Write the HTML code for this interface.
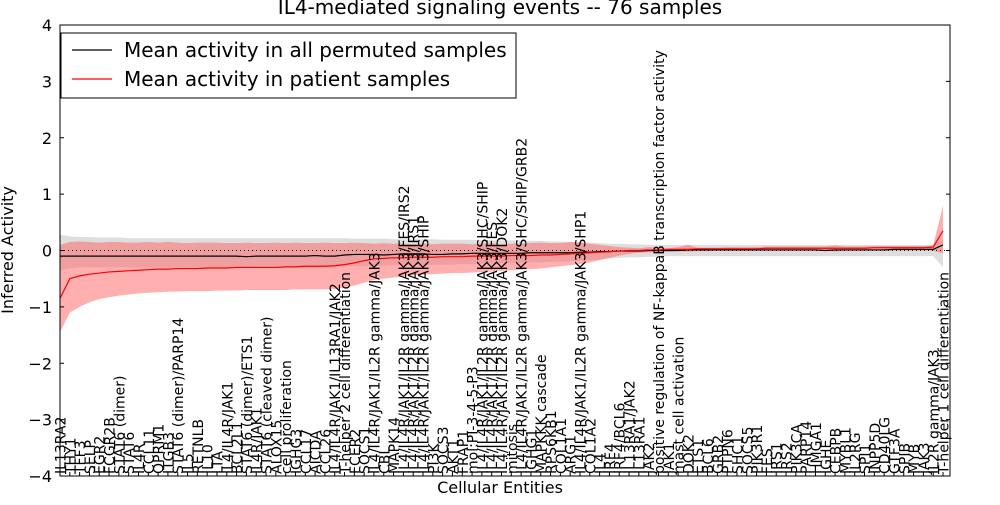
<!DOCTYPE html>
<html><head><meta charset="utf-8"><style>
body{margin:0;background:#fff;}
svg text{font-family:"DejaVu Sans","Liberation Sans",sans-serif;}
</style></head><body>
<svg id="chart" width="1000" height="500" xmlns="http://www.w3.org/2000/svg"></svg>
<script>
const cats=["IL13RA2","THY1","TFF3","SELP","EGR2","FCGR2B","STAT6 (dimer)","STAT6","IL4R","CCL11","OPRM1","ITGB3","STAT6 (dimer)/PARP14","IL5","RETNLB","IL10","LTA","IL4/IL4R/JAK1","BCL2L1","STAT6 (dimer)/ETS1","IL4R/JAK1","STAT6 (cleaved dimer)","ALOX15","cell proliferation","IGHG3","CCL17","AICDA","CCL26","IL4/IL4R/JAK1/IL13RA1/JAK2","T-helper 2 cell differentiation","FCER2","SOCS1","IL4/IL4R/JAK1/IL2R gamma/JAK3","CBL","MAPK14","IL4/IL4R/JAK1/IL2R gamma/JAK3/FES/IRS2","IL4/IL4R/JAK1/IL2R gamma/JAK3/IRS1","IL4/IL4R/JAK1/IL2R gamma/JAK3/SHIP","PI3K","SOCS3","AKT1","FRAP1","mol:PI-3-4-5-P3","IL4/IL4R/JAK1/IL2R gamma/JAK3/SHC/SHIP","IL4/IL4R/JAK1/IL2R gamma/JAK3/FES","IL4/IL4R/JAK1/IL2R gamma/JAK3/DOK2","mitosis","IL4/IL4R/JAK1/IL2R gamma/JAK3/SHC/SHIP/GRB2","IGHG1","MAPKKK cascade","RPS6KB1","COL1A1","ARG1","IL4/IL4R/JAK1/IL2R gamma/JAK3/SHP1","COL1A2","IL4","IRF4","IRF4/BCL6","IL13RA1/JAK2","IL13RA1","JAK2","positive regulation of NF-kappaB transcription factor activity","JAK1","mast cell activation","DOK2","ETS1","BCL6","GRB2","PTPN6","SHC1","SOCS5","PIK3R1","FES","IRS1","IRS2","PIK3CA","PARP14","HMGA1","IGHE","CEBPB","MYBL1","IL2RG","SPI1","INPP5D","CD40LG","GTF3A","SPIB","MYB","JAK3","IL2R gamma/JAK3","T-helper 1 cell differentiation"];
const N=cats.length;
const redMean=[-0.85,-0.5,-0.45,-0.42,-0.4,-0.38,-0.37,-0.36,-0.35,-0.34,-0.33,-0.33,-0.32,-0.32,-0.32,-0.31,-0.31,-0.31,-0.3,-0.3,-0.3,-0.3,-0.3,-0.29,-0.29,-0.28,-0.28,-0.28,-0.27,-0.25,-0.22,-0.18,-0.15,-0.14,-0.13,-0.13,-0.12,-0.12,-0.12,-0.11,-0.11,-0.11,-0.1,-0.1,-0.1,-0.1,-0.09,-0.09,-0.09,-0.08,-0.08,-0.07,-0.06,-0.05,-0.04,-0.03,-0.02,-0.01,0.0,0.0,0.01,0.01,0.02,0.02,0.02,0.03,0.03,0.03,0.03,0.03,0.03,0.03,0.04,0.04,0.04,0.04,0.04,0.04,0.04,0.04,0.04,0.04,0.04,0.05,0.05,0.05,0.05,0.05,0.05,0.06,0.35];
const blackMean=[-0.1,-0.1,-0.1,-0.1,-0.1,-0.1,-0.1,-0.1,-0.1,-0.1,-0.1,-0.1,-0.1,-0.1,-0.1,-0.1,-0.1,-0.1,-0.1,-0.11,-0.1,-0.1,-0.1,-0.1,-0.1,-0.1,-0.09,-0.1,-0.1,-0.08,-0.07,-0.07,-0.07,-0.08,-0.07,-0.06,-0.06,-0.06,-0.07,-0.07,-0.06,-0.06,-0.05,-0.05,-0.05,-0.05,-0.05,-0.05,-0.04,-0.04,-0.04,-0.04,-0.04,-0.03,-0.03,-0.02,-0.02,-0.01,-0.01,-0.01,0,0,0,0,0.01,0.01,0.01,0.01,0.01,0.01,0.01,0.01,0.01,0.01,0.01,0.01,0.01,0.01,0,0.01,0.01,0.01,0.01,0.01,0.01,0.02,0.02,0.02,0.02,0.02,0.1];
const redLo=[-1.45,-1.1,-1.0,-0.92,-0.86,-0.83,-0.8,-0.78,-0.76,-0.75,-0.74,-0.73,-0.73,-0.72,-0.72,-0.72,-0.71,-0.71,-0.71,-0.7,-0.7,-0.7,-0.7,-0.7,-0.69,-0.69,-0.69,-0.69,-0.68,-0.66,-0.62,-0.57,-0.52,-0.5,-0.48,-0.46,-0.44,-0.43,-0.42,-0.41,-0.4,-0.4,-0.39,-0.38,-0.37,-0.36,-0.35,-0.34,-0.33,-0.32,-0.3,-0.28,-0.26,-0.24,-0.21,-0.17,-0.13,-0.09,-0.06,-0.04,-0.03,-0.03,-0.02,-0.01,-0.02,-0.01,-0.01,0,0,0,0,0,0,0,0,0,0,0,0,-0.02,0,0,0,0,0,0,0,0,0,0,-0.05];
const redHi=[0.1,0.15,0.16,0.15,0.14,0.15,0.15,0.14,0.14,0.15,0.14,0.15,0.14,0.13,0.14,0.14,0.14,0.13,0.13,0.14,0.13,0.13,0.14,0.13,0.14,0.13,0.13,0.14,0.13,0.13,0.14,0.13,0.12,0.13,0.12,0.12,0.11,0.12,0.11,0.12,0.12,0.12,0.11,0.12,0.13,0.11,0.12,0.12,0.13,0.14,0.13,0.13,0.15,0.14,0.12,0.1,0.08,0.06,0.05,0.04,0.06,0.05,0.04,0.06,0.1,0.05,0.05,0.05,0.06,0.06,0.06,0.06,0.07,0.07,0.07,0.07,0.07,0.07,0.07,0.09,0.07,0.07,0.07,0.08,0.08,0.08,0.08,0.08,0.08,0.09,0.8];
const grayLo=[-0.35,-0.32,-0.3,-0.3,-0.3,-0.3,-0.3,-0.3,-0.3,-0.3,-0.3,-0.3,-0.3,-0.3,-0.3,-0.3,-0.3,-0.3,-0.3,-0.3,-0.3,-0.3,-0.3,-0.3,-0.3,-0.3,-0.3,-0.3,-0.3,-0.28,-0.28,-0.28,-0.27,-0.27,-0.26,-0.26,-0.26,-0.25,-0.26,-0.25,-0.25,-0.24,-0.24,-0.23,-0.23,-0.23,-0.22,-0.22,-0.21,-0.21,-0.2,-0.2,-0.19,-0.18,-0.17,-0.16,-0.14,-0.13,-0.12,-0.12,-0.11,-0.11,-0.1,-0.1,-0.1,-0.1,-0.1,-0.1,-0.1,-0.1,-0.1,-0.1,-0.1,-0.1,-0.1,-0.1,-0.1,-0.1,-0.1,-0.1,-0.1,-0.1,-0.1,-0.1,-0.1,-0.1,-0.1,-0.1,-0.1,-0.1,-0.3];
const grayHi=[0.28,0.25,0.24,0.24,0.23,0.23,0.23,0.22,0.22,0.22,0.22,0.22,0.22,0.22,0.22,0.22,0.22,0.22,0.22,0.22,0.22,0.22,0.22,0.22,0.22,0.22,0.22,0.22,0.22,0.22,0.21,0.21,0.21,0.21,0.2,0.2,0.2,0.2,0.2,0.19,0.19,0.19,0.19,0.18,0.18,0.18,0.18,0.17,0.17,0.17,0.16,0.16,0.15,0.15,0.14,0.13,0.12,0.12,0.11,0.11,0.1,0.1,0.1,0.1,0.1,0.1,0.1,0.1,0.1,0.1,0.1,0.1,0.1,0.1,0.1,0.1,0.1,0.1,0.1,0.1,0.1,0.1,0.1,0.1,0.1,0.1,0.1,0.1,0.1,0.1,0.2];
const yTicks=[-4,-3,-2,-1,0,1,2,3,4];

const L=60,R=950,T=25,B=476;
const XR=943;
const sx=i=>L+(XR-L)*i/(N-1);
const sy=v=>B-(v+4)/8*(B-T);
const svg=document.getElementById('chart');
const NS='http://www.w3.org/2000/svg';
function mk(tag,attrs,parent){const e=document.createElementNS(NS,tag);for(const k in attrs)e.setAttribute(k,attrs[k]);(parent||svg).appendChild(e);return e;}
function band(lo,hi,fill,op,name){
  let d='M'+lo.map((v,i)=>sx(i)+','+sy(hi[i])).join('L');
  d+='L'+lo.map((v,i)=>[sx(i),sy(v)]).reverse().map(p=>p.join(',')).join('L')+'Z';
  const p=mk('path',{d:d,fill:fill,'fill-opacity':op,stroke:'none'});
  
  
}
band(grayLo,grayHi,'#c8c8c8',0.6,'permuted-band');
band(redLo,redHi,'#ff6060',0.5,'patient-band');
const zl=mk('line',{x1:L,x2:R,y1:sy(0),y2:sy(0),stroke:'#000','stroke-dasharray':'1,3','stroke-width':1});


function line(vals,col,name){
  const p=mk('polyline',{points:vals.map((v,i)=>sx(i)+','+sy(v)).join(' '),fill:'none',stroke:col,'stroke-width':1.2});
  
  
}
line(blackMean,'#000','permuted-mean-line');
line(redMean,'#f00','patient-mean-line');
const fr=mk('rect',{x:L,y:T,width:R-L,height:B-T,fill:'none',stroke:'#000','stroke-width':1});


yTicks.forEach(t=>{
  mk('line',{x1:L,x2:L+4,y1:sy(t),y2:sy(t),stroke:'#000'});
  mk('line',{x1:R-4,x2:R,y1:sy(t),y2:sy(t),stroke:'#000'});
  const tx=mk('text',{x:L-8,y:sy(t)+6,'text-anchor':'end','font-size':16});
  tx.textContent=(t<0?'\u2212':'')+Math.abs(t);
  
  
});
cats.forEach((c,i)=>{
  const x=sx(i);
  mk('line',{x1:x,x2:x,y1:B,y2:B-4,stroke:'#000'});
  const tx=mk('text',{x:0,y:0,transform:`translate(${x+5.5},${B-2}) rotate(-90)`,'font-size':14});
  tx.textContent=c;
  
  
});
const ti=mk('text',{x:500,y:14,'text-anchor':'middle','font-size':20});
ti.textContent='IL4-mediated signaling events -- 76 samples';


const xt=mk('text',{x:500,y:493,'text-anchor':'middle','font-size':16});
xt.textContent='Cellular Entities';


const yt=mk('text',{x:0,y:0,transform:'translate(13,250) rotate(-90)','text-anchor':'middle','font-size':16});
yt.textContent='Inferred Activity';


const lg=mk('g',{});


mk('rect',{x:61,y:33,width:455,height:65,fill:'#fff',stroke:'#000'},lg);
mk('line',{x1:72,x2:112,y1:50,y2:50,stroke:'#000','stroke-width':1.2},lg);
mk('line',{x1:72,x2:112,y1:79,y2:79,stroke:'#f00','stroke-width':1.2},lg);
const l1=mk('text',{x:124,y:57,'font-size':20},lg);l1.textContent='Mean activity in all permuted samples';


const l2=mk('text',{x:124,y:86,'font-size':20},lg);l2.textContent='Mean activity in patient samples';


</script>
</body></html>
